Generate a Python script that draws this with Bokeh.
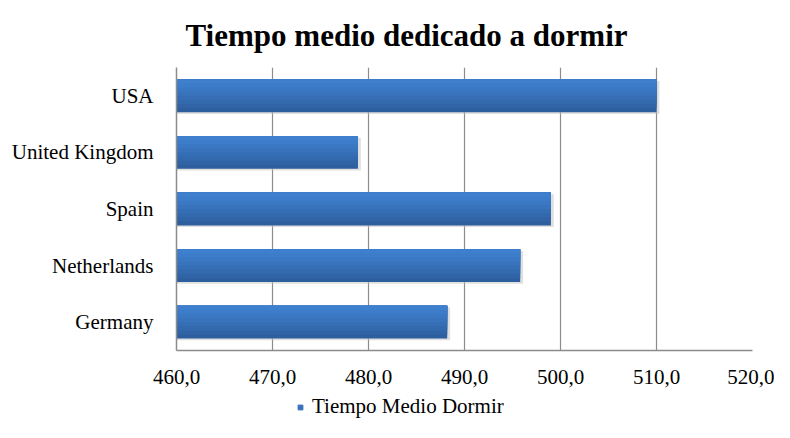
from bokeh.plotting import figure
from bokeh.models import (FactorRange, Range1d, CustomJSTickFormatter, FixedTicker,
                          Legend, LegendItem, ColumnDataSource)
from bokeh.layouts import column
from bokeh.transform import dodge
from bokeh.embed import file_html
from bokeh.resources import INLINE

countries = ["USA", "United Kingdom", "Spain", "Netherlands", "Germany"]
values = [510.0, 478.9, 499.0, 495.8, 488.2]
ticks = [460, 470, 480, 490, 500, 510, 520]
series_name = "Tiempo Medio Dormir"
title_text = "Tiempo medio dedicado a dormir"

FONT = "Liberation Serif"

src = ColumnDataSource(dict(country=countries, value=values,
                            shadow=[v + 0.3 for v in values]))

p = figure(width=774, height=392, output_backend="svg", toolbar_location=None,
           y_range=FactorRange(*list(reversed(countries)), range_padding=0.0),
           x_range=Range1d(ticks[0], ticks[-1]),
           min_border_left=176, min_border_right=22, min_border_top=60,
           min_border_bottom=42, outline_line_color=None,
           background_fill_color="white", border_fill_color="white")

p.title.text = title_text
p.title.text_font = FONT
p.title.text_font_size = "31px"
p.title.text_font_style = "bold"
p.title.align = "left"
p.title.offset = 9
p.title.text_color = "black"
p.title.standoff = 30

bar_h = 0.58
# soft shadow
p.hbar(y=dodge("country", -0.03, range=p.y_range), left=ticks[0], right="shadow",
       height=bar_h, source=src, fill_color="#c4c4c4", fill_alpha=0.55, line_color=None)

# gradient: nested bars anchored at top, darkest (full) first, lighter ones on top portion
colors = ["#2d5e9d", "#3064a6", "#3369ad", "#356eb5", "#3873bc", "#3a78c3", "#3c7cc9", "#3e80ce"]
n = len(colors)
for i, c in enumerate(colors):
    h = bar_h * (n - i) / n
    off = bar_h / 2 - h / 2
    p.hbar(y=dodge("country", off, range=p.y_range), left=ticks[0], right="value",
           height=h, source=src, fill_color=c, line_color=None)

# axes
p.xaxis.ticker = FixedTicker(ticks=ticks)
p.xaxis.formatter = CustomJSTickFormatter(code="return tick.toFixed(1).replace('.', ',');")
p.xaxis.major_label_text_font = FONT
p.xaxis.major_label_text_font_size = "21px"
p.xaxis.major_label_text_color = "black"
p.xaxis.major_label_standoff = 13
p.xaxis.major_tick_line_color = None
p.xaxis.minor_tick_line_color = None
p.xaxis.axis_line_color = "#8c8c8c"
p.xaxis.axis_line_width = 1.5

p.yaxis.major_label_text_font = FONT
p.yaxis.major_label_text_font_size = "21px"
p.yaxis.major_label_text_color = "black"
p.yaxis.major_label_standoff = 17
p.yaxis.major_tick_line_color = None
p.yaxis.minor_tick_line_color = None
p.yaxis.axis_line_color = "#8c8c8c"
p.yaxis.axis_line_width = 1.5

p.xgrid.grid_line_color = "#8c8c8c"
p.xgrid.grid_line_width = 1.2
p.ygrid.grid_line_color = None

# legend strip as a separate small figure (avoids clipping outside the main frame)
lf = figure(width=774, height=30, output_backend="svg", toolbar_location=None,
            x_range=Range1d(0, 1), y_range=Range1d(0, 1),
            x_axis_location=None, y_axis_location=None,
            min_border=0, outline_line_color=None,
            background_fill_color="white", border_fill_color="white")
lf.xgrid.grid_line_color = None
lf.ygrid.grid_line_color = None
key_src = ColumnDataSource(dict(x=[-5.0], y=[-5.0]))  # off-screen: only its legend key shows
key = lf.scatter(x="x", y="y", source=key_src, marker="square", size=12,
                 fill_color="#3871bb", line_color="#3871bb")
legend = Legend(items=[LegendItem(label=series_name, renderers=[key])],
                orientation="horizontal", location=(118, 3),
                label_text_font=FONT, label_text_font_size="21px", label_text_color="black",
                glyph_width=12, glyph_height=12, label_standoff=6, label_height=21,
                border_line_color=None, background_fill_alpha=0, margin=0, padding=0)
lf.add_layout(legend, "center")

layout = column(p, lf, spacing=0)
open("out.html", "w").write(file_html(layout, INLINE))
